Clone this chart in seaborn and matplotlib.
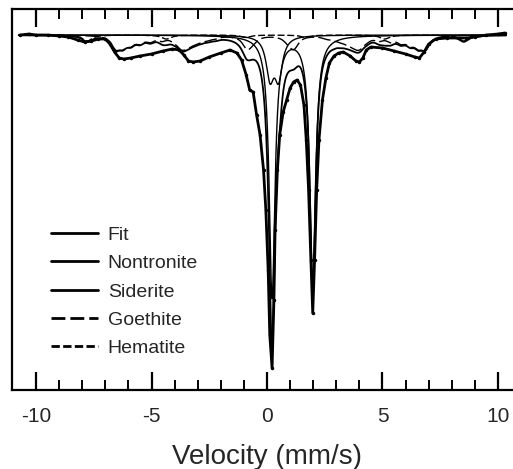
import numpy as np
import pandas as pd
import matplotlib
matplotlib.use("Agg")
import matplotlib.pyplot as plt
import seaborn as sns
from matplotlib.lines import Line2D

sns.set_theme(style="white")
plt.rcParams['font.family'] = ['Liberation Sans', 'DejaVu Sans']
plt.rcParams['patch.force_edgecolor'] = False

# ---------------- data ----------------
# measured spectrum (velocity mm/s, relative transmission)
data_v = [-10.7, -10.3, -10.0, -9.5, -9.0, -8.6, -8.2, -7.9, -7.6, -7.3, -7.0, -6.8, -6.6,
          -6.4, -6.2, -5.9, -5.5, -5.0, -4.5, -4.1, -3.8, -3.6, -3.4, -3.2, -2.9, -2.5,
          -2.0, -1.6, -1.3, -1.1, -0.9, -0.75, -0.6, -0.45, -0.3, -0.15, -0.05, 0.05,
          0.12, 0.22, 0.30, 0.35, 0.45, 0.55, 0.7, 0.85, 1.0, 1.15, 1.3, 1.45, 1.6, 1.7,
          1.8, 1.9, 1.98, 2.06, 2.15, 2.25, 2.4, 2.55, 2.7, 2.9, 3.1, 3.3, 3.6, 3.85,
          4.0, 4.15, 4.3, 4.5, 5.0, 5.5, 6.0, 6.4, 6.6, 6.8, 7.0, 7.3, 7.8, 8.3, 8.6,
          9.0, 9.5, 10.0, 10.3]
data_t = [1.000, 1.001, 1.000, 1.000, 0.999, 0.998, 0.995, 0.993, 0.994, 0.996, 0.996,
          0.991, 0.983, 0.977, 0.976, 0.977, 0.979, 0.981, 0.984, 0.986, 0.985, 0.980,
          0.974, 0.973, 0.974, 0.978, 0.982, 0.985, 0.982, 0.975, 0.960, 0.945, 0.943,
          0.920, 0.900, 0.865, 0.825, 0.765, 0.700, 0.667, 0.735, 0.805, 0.865, 0.900,
          0.923, 0.935, 0.947, 0.953, 0.955, 0.950, 0.930, 0.895, 0.845, 0.775, 0.722,
          0.775, 0.845, 0.895, 0.935, 0.957, 0.972, 0.979, 0.982, 0.983, 0.979, 0.974,
          0.973, 0.977, 0.985, 0.988, 0.987, 0.984, 0.981, 0.978, 0.977, 0.983, 0.991,
          0.996, 0.997, 0.997, 0.997, 0.998, 1.000, 1.001, 1.002]

# fitted components (line position mm/s, depth, half width)
sid_pos = [0.22, 1.98]
sid_depth = [0.262, 0.252]
sid_hw = [0.15, 0.15]

non_pos = [0.13, 0.50]
non_depth = [0.040, 0.040]
non_hw = [0.20, 0.20]

# goethite: distribution of sextets (centre, outer-line half span, weights)
goe_center = 0.15
goe_span = [6.70, 6.40, 6.05, 5.65, 5.20, 4.70, 4.15]
goe_weight = [0.0110, 0.0085, 0.0068, 0.0055, 0.0045, 0.0036, 0.0028]
goe_hw = 0.22

hem_center = 0.37
hem_span = 8.15
hem_depth = 0.006
hem_hw = 0.25

line_ratio = [3, 2, 1.2, 1.2, 2, 3]
line_factor = [-1.0, -0.58, -0.16, 0.16, 0.58, 1.0]

legend_labels = ["Fit", "Nontronite", "Siderite", "Goethite", "Hematite"]

# ---------------- model curves ----------------
v = np.linspace(-10.75, 10.35, 2500)


def lor(x, p, d, g):
    return d / (1.0 + ((x - p) / g) ** 2)


def sextet(x, c, span, d, g):
    out = np.zeros_like(x)
    for r, f in zip(line_ratio, line_factor):
        out += lor(x, c + f * span, d * r / 3.0, g)
    return out


sid = sum(lor(v, p, d, g) for p, d, g in zip(sid_pos, sid_depth, sid_hw))
non = sum(lor(v, p, d, g) for p, d, g in zip(non_pos, non_depth, non_hw))
goe = sum(sextet(v, goe_center, s, w, goe_hw) for s, w in zip(goe_span, goe_weight))
hem = sextet(v, hem_center, hem_span, hem_depth, hem_hw)
fit = sid + non + goe + hem

df = pd.DataFrame({"v": v, "Fit": 1 - fit, "Nontronite": 1 - non,
                   "Siderite": 1 - sid, "Goethite": 1 - goe, "Hematite": 1 - hem})
dd = pd.DataFrame({"v": data_v, "t": data_t})

# ---------------- figure ----------------
fig = plt.figure(figsize=(5.13, 4.69), dpi=100, frameon=False)
# axes run slightly past the right edge of the figure (no right frame visible)
ax = fig.add_axes([12 / 513, 79 / 469, 510 / 513, 381 / 469])

sns.lineplot(data=dd, x="v", y="t", ax=ax, color="black", lw=2.0, marker="o",
             markersize=2.5, markeredgewidth=0, zorder=2)
sns.lineplot(data=df, x="v", y="Nontronite", ax=ax, color="black", lw=1.0, zorder=3)
sns.lineplot(data=df, x="v", y="Siderite", ax=ax, color="black", lw=1.0, zorder=3)
ax.plot(df["v"], df["Goethite"], color="black", lw=1.0, dashes=(9, 3), zorder=3)
ax.plot(df["v"], df["Hematite"], color="black", lw=1.0, dashes=(5, 2), zorder=3)
sns.lineplot(data=df, x="v", y="Fit", ax=ax, color="black", lw=1.3, zorder=4)

ax.set_xlim(-11.04, 11.04)
ax.set_ylim(0.645, 1.026)
ax.set_yticks([])
ax.set_ylabel("")
ax.set_xlabel("Velocity (mm/s)", fontsize=20, labelpad=13.5)
ax.set_xticks([-10, -5, 0, 5, 10])
ax.set_xticks(np.arange(-10, 11, 1), minor=True)
ax.set_xticklabels(["-10", "-5", "0", "5", "10"])
ax.tick_params(axis="x", which="major", direction="in", length=13, width=1.6,
               top=True, bottom=True, labelsize=15, pad=12, color="black")
ax.tick_params(axis="x", which="minor", direction="in", length=7, width=1.4,
               top=True, bottom=True, color="black")
ax.tick_params(axis="y", left=False, right=False)

handles = [Line2D([], [], color="black", lw=2.0),
           Line2D([], [], color="black", lw=2.0),
           Line2D([], [], color="black", lw=2.0),
           Line2D([], [], color="black", lw=2.0, dashes=(5, 1.8)),
           Line2D([], [], color="black", lw=2.0, dashes=(3, 1.2))]
leg = ax.legend(handles, legend_labels, loc="upper left", bbox_to_anchor=(0.058, 0.455),
                frameon=False, fontsize=14, handlelength=2.4, handletextpad=0.5,
                labelspacing=0.55, borderpad=0)

# open frame: left, top and bottom edges only
ax.set_frame_on(False)
for xs, ys in [([0, 0], [0, 1]), ([0, 1], [1, 1]), ([0, 1], [0, 0])]:
    ax.add_line(Line2D(xs, ys, transform=ax.transAxes, color="black", lw=1.6,
                       solid_capstyle="projecting", clip_on=False, zorder=5))

fig.savefig("out.png", dpi=100, facecolor="white")
